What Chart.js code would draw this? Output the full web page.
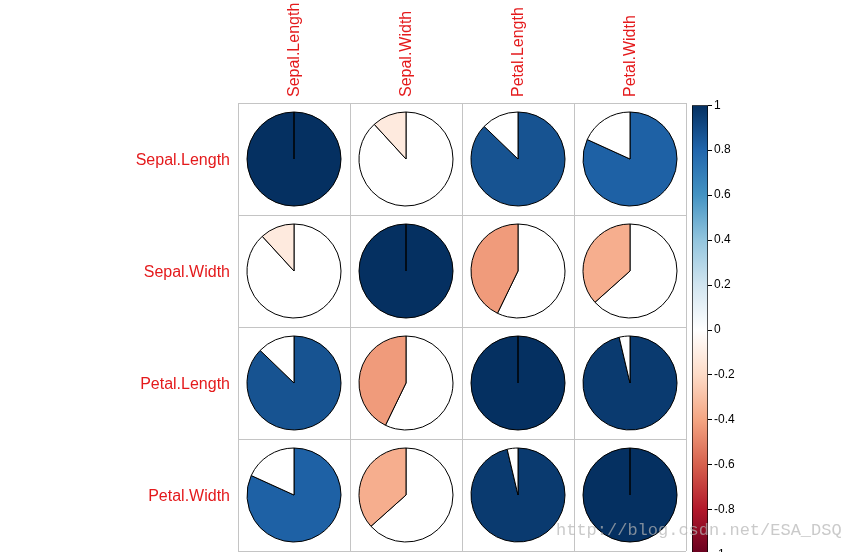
<!DOCTYPE html>
<html lang="en">
<head>
    <meta charset="UTF-8">
    <title>Correlation pies</title>
    <script src="https://cdn.jsdelivr.net/npm/chart.js"></script>
    <style>
        html, body { margin: 0; padding: 0; background: #fff; }
        body { width: 847px; height: 552px; overflow: hidden; position: relative; }
        .layer { position: absolute; }
        .watermark {
            position: absolute; left: 556px; top: 521px; z-index: 10;
            font-family: "Liberation Mono", monospace; font-size: 17px; line-height: 20px;
            color: rgba(180, 180, 180, 0.7); white-space: nowrap;
        }
    </style>
</head>
<body>
    <div class="layer" style="left:0;top:0"><canvas id="gridChart" width="847" height="552"></canvas></div>
    <div id="pies"></div>
    <div class="layer" id="barBox"><canvas id="legendChart" width="60" height="480"></canvas></div>
    <div class="watermark">http://blog.csdn.net/ESA_DSQ</div>
<script>
    // variable names (rows and columns)
    const variables = ['Sepal.Length', 'Sepal.Width', 'Petal.Length', 'Petal.Width'];

    // correlation rows
    const corrSepalLength = [1, -0.118, 0.872, 0.818];
    const corrSepalWidth = [-0.118, 1, -0.428, -0.366];
    const corrPetalLength = [0.872, -0.428, 1, 0.963];
    const corrPetalWidth = [0.818, -0.366, 0.963, 1];

    // colour legend ticks
    const legendTicks = [1, 0.8, 0.6, 0.4, 0.2, 0, -0.2, -0.4, -0.6, -0.8, -1];

    // corrplot default palette, from -1 to 1
    const paletteStops = ['#67001F', '#B2182B', '#D6604D', '#F4A582', '#FDDBC7', '#FFFFFF',
                          '#D1E5F0', '#92C5DE', '#4393C3', '#2166AC', '#053061'];

    const corrRows = [corrSepalLength, corrSepalWidth, corrPetalLength, corrPetalWidth];
    const labelFont = { family: 'Liberation Sans, Arial, sans-serif', size: 16 };
    const labelColor = '#E41A1C';
    const gridColor = '#C4C4C4';

    function hexToRgb(h) {
        return [1, 3, 5].map(i => parseInt(h.substr(i, 2), 16));
    }

    function corrColor(r) {
        const pos = (r + 1) / 2 * (paletteStops.length - 1);
        const i = Math.min(Math.floor(pos), paletteStops.length - 2);
        const t = pos - i;
        const a = hexToRgb(paletteStops[i]);
        const b = hexToRgb(paletteStops[i + 1]);
        const c = a.map((v, k) => Math.round(v + (b[k] - v) * t));
        return 'rgb(' + c.join(',') + ')';
    }

    // grid and labels
    const gridChart = new Chart(document.getElementById('gridChart'), {
        type: 'scatter',
        data: { datasets: [{ data: [] }] },
        options: {
            responsive: false,
            animation: false,
            events: [],
            layout: { padding: { left: 0, top: 0, right: 161, bottom: 1 } },
            plugins: { legend: { display: false }, tooltip: { enabled: false } },
            scales: {
                x: {
                    type: 'category',
                    labels: variables,
                    position: 'top',
                    offset: true,
                    grid: { offset: true, color: gridColor, drawTicks: false },
                    border: { color: gridColor },
                    ticks: { color: labelColor, font: labelFont, minRotation: 90, maxRotation: 90,
                             padding: 6, labelOffset: 20 },
                    afterFit: s => { s.height = 103; s.paddingLeft = 0; s.paddingRight = 0; }
                },
                y: {
                    type: 'category',
                    labels: variables,
                    offset: true,
                    grid: { offset: true, color: gridColor, drawTicks: false },
                    border: { color: gridColor },
                    ticks: { color: labelColor, font: labelFont, padding: 8, labelOffset: 2 },
                    afterFit: s => { s.width = 238; s.paddingTop = 0; s.paddingBottom = 0; }
                }
            }
        }
    });

    // one pie per cell
    const piesBox = document.getElementById('pies');
    corrRows.forEach((row, i) => {
        row.forEach((r, j) => {
            const cx = gridChart.scales.x.getPixelForValue(j);
            const cy = gridChart.scales.y.getPixelForValue(i);
            const box = document.createElement('div');
            box.className = 'layer';
            box.style.left = (cx - 50) + 'px';
            box.style.top = (cy - 50) + 'px';
            const cv = document.createElement('canvas');
            cv.width = 100;
            cv.height = 100;
            box.appendChild(cv);
            piesBox.appendChild(box);

            const a = Math.abs(r);
            const data = r >= 0 ? [a, 1 - a] : [1 - a, a];
            const colors = r >= 0 ? [corrColor(r), '#FFFFFF'] : ['#FFFFFF', corrColor(r)];
            new Chart(cv, {
                type: 'pie',
                data: {
                    datasets: [{
                        data: data,
                        backgroundColor: colors,
                        borderColor: '#000000',
                        borderWidth: 1,
                        hoverOffset: 0
                    }]
                },
                options: {
                    responsive: false,
                    animation: false,
                    events: [],
                    radius: 47,
                    plugins: { legend: { display: false }, tooltip: { enabled: false } }
                }
            });
        });
    });

    // colour legend bar
    function legendConfig() {
        return {
            type: 'bar',
            data: {
                labels: [''],
                datasets: [{
                    data: [[-1, 1]],
                    barPercentage: 1,
                    categoryPercentage: 1,
                    borderColor: '#000000',
                    borderWidth: 1,
                    borderSkipped: false,
                    backgroundColor: ctx => {
                        const area = ctx.chart.chartArea;
                        if (!area) return '#ffffff';
                        const g = ctx.chart.ctx.createLinearGradient(0, area.bottom, 0, area.top);
                        paletteStops.forEach((c, k) => g.addColorStop(k / (paletteStops.length - 1), c));
                        return g;
                    }
                }]
            },
            options: {
                responsive: false,
                animation: false,
                events: [],
                layout: { padding: 0 },
                plugins: { legend: { display: false }, tooltip: { enabled: false } },
                scales: {
                    x: { display: false },
                    y: {
                        position: 'right',
                        min: -1,
                        max: 1,
                        afterBuildTicks: s => { s.ticks = legendTicks.map(v => ({ value: v })); },
                        grid: { drawOnChartArea: false, color: '#000000', tickLength: 4 },
                        border: { display: false },
                        ticks: {
                            color: '#000000',
                            padding: 2,
                            font: { family: 'Liberation Sans, Arial, sans-serif', size: 12 },
                            callback: v => String(v)
                        },
                        afterFit: s => { s.width = 44; }
                    }
                }
            }
        };
    }

    const barBox = document.getElementById('barBox');
    const barCanvas = document.getElementById('legendChart');
    barBox.style.left = '692px';
    barBox.style.top = '90px';
    let legendChart = new Chart(barCanvas, legendConfig());
    const area0 = legendChart.chartArea;
    const wantTop = 105, wantHeight = 450;
    const newH = 480 + (wantHeight - (area0.bottom - area0.top));
    const newTop = wantTop - area0.top;
    legendChart.destroy();
    barCanvas.width = 60;
    barCanvas.height = newH;
    barBox.style.top = newTop + 'px';
    legendChart = new Chart(barCanvas, legendConfig());
</script>
</body>
</html>
